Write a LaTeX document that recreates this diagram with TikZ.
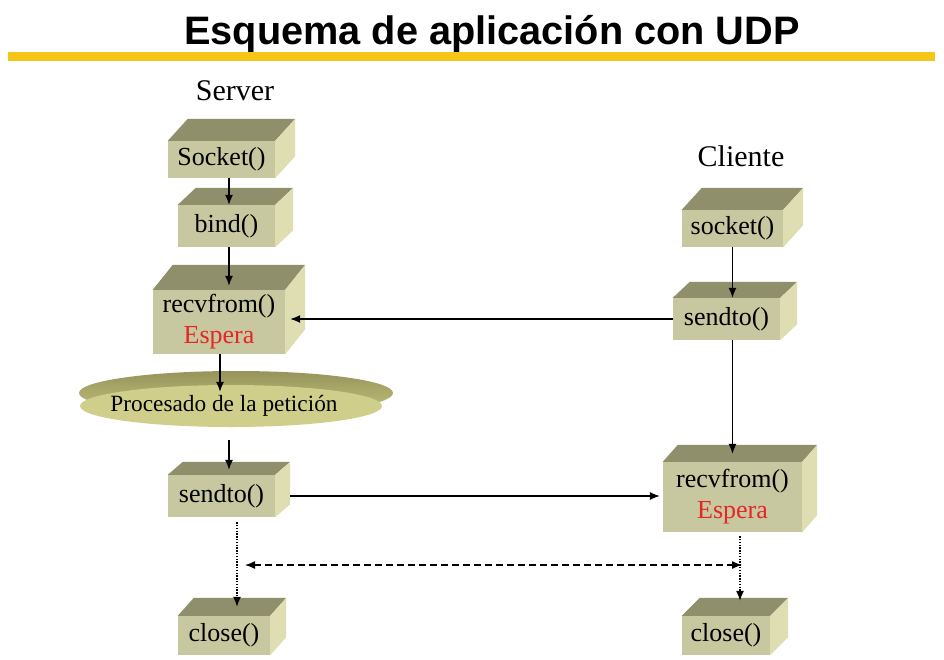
\documentclass[tikz,border=0pt]{standalone}
\usepackage{fontspec}
\setmainfont{Liberation Serif}
\newfontfamily\titulofont{Liberation Sans}
\usetikzlibrary{arrows.meta}
\usetikzlibrary{shapes.geometric}

\definecolor{frente}{RGB}{199,199,160}
\definecolor{tapa}{RGB}{143,143,107}
\definecolor{lado}{RGB}{222,222,178}
\definecolor{discoclaro}{RGB}{208,206,139}
\definecolor{discooscuro}{RGB}{150,148,90}
\definecolor{discomedio}{RGB}{196,194,125}
\definecolor{rojo}{RGB}{230,38,38}
\definecolor{amarillo}{RGB}{245,197,24}

\tikzset{
  caja/.style={fill=frente, inner sep=0pt, align=center, font=\fontsize{26}{31}\selectfont},
  rotulo/.style={anchor=base, font=\fontsize{30}{34}\selectfont},
  disco/.style={ellipse, fill=discoclaro, inner sep=0pt, minimum width=302pt, minimum height=42pt, font=\fontsize{23.3}{27}\selectfont},
  flecha/.style={line width=1.3pt, -{Latex[length=10pt,width=8pt]}},
  punteada/.style={flecha, dash pattern=on 1.3pt off 1.5pt},
  discontinua/.style={line width=1.3pt, {Latex[length=10pt,width=8pt]}-{Latex[length=10pt,width=8pt]}, dash pattern=on 7pt off 4pt},
}

\begin{document}
\begin{tikzpicture}[x=1pt,y=-1pt]
            \useasboundingbox (0,0) rectangle (944,659);
            \fill[white] (0,0) rectangle (944,659);
            \node[anchor=base, font=\titulofont\bfseries\fontsize{39.7}{45}\selectfont] (titulo) at (492,44) {Esquema de aplicación con UDP};
            \fill[amarillo] (8,52) rectangle (935,61);
            \node[rotulo] (server) at (235,100) {Server};
            \node[rotulo] (cliente) at (741,166) {Cliente};

            \node[caja, minimum width=107pt, minimum height=37pt] (sSocket) at (221.5,159.5) {Socket()};
            \node[caja, minimum width=97pt, minimum height=42pt] (sBind) at (226.5,226) {bind()};
            \node[caja, minimum width=132pt, minimum height=64pt] (sRecv) at (219,322) {recvfrom()\\\textcolor{rojo}{Espera}};
            \shade[top color=discooscuro, bottom color=discomedio] (236,393) ellipse [x radius=157, y radius=22];
            \node[disco] (proc) at (231,406) {\hspace*{-14pt}Procesado de la petición};
            \node[caja, minimum width=107pt, minimum height=42pt] (sSend) at (221.5,496) {sendto()};
            \node[caja, minimum width=92pt, minimum height=39pt] (sClose) at (224,635.5) {close()};

            \node[caja, minimum width=101pt, minimum height=37pt] (cSocket) at (732.5,228.5) {socket()};
            \node[caja, minimum width=107pt, minimum height=42pt] (cSend) at (726.5,319) {sendto()};
            \node[caja, minimum width=139pt, minimum height=70pt] (cRecv) at (732.5,497) {recvfrom()\\\textcolor{rojo}{Espera}};
            \node[caja, minimum width=88pt, minimum height=39pt] (cClose) at (726,635.5) {close()};

            \foreach \n/\dx/\dy in {sSocket/20/22, sBind/18/17, sRecv/20/25, sSend/15/13, sClose/16/18, cSocket/20/22, cSend/17/16, cRecv/15/17, cClose/18/18} {
                \fill[tapa] (\n.north west) -- ++(\dx,-\dy) -- ([shift={(\dx,-\dy)}]\n.north east) -- (\n.north east) -- cycle;
                \fill[lado] (\n.north east) -- ++(\dx,-\dy) -- ([shift={(\dx,-\dy)}]\n.south east) -- (\n.south east) -- cycle;
            }

            \draw[flecha] ([xshift=7.5pt]sSocket.south) -- ([xshift=2.5pt]sBind.north);
            \draw[flecha] ([xshift=2.5pt]sBind.south) -- ([xshift=10pt,yshift=4pt]sRecv.north);
            \draw[flecha] ([xshift=1pt]sRecv.south) -- ([xshift=1pt,yshift=-7pt]sRecv.south |- proc.north);
            \draw ([xshift=7.5pt,yshift=-13pt]sSend.north |- proc.south) edge[flecha] ([xshift=7.5pt,yshift=5pt]sSend.north);
            \draw[flecha] (cSend.west) -- ([xshift=5pt]cSend.west -| sRecv.east);
            \draw[flecha] ([xshift=15pt]sSend.east) -- ([xshift=-3pt]sSend.east -| cRecv.west);
            \draw[flecha] (cSocket.south) -- ([xshift=6pt]cSend.north);
            \draw[flecha] ([xshift=6pt]cSend.south) -- ([yshift=8pt]cRecv.north);
            \draw[punteada] ([xshift=15.5pt,yshift=-5pt]sSend.south) -- ([xshift=13pt,yshift=9pt]sClose.north);
            \draw[punteada] ([xshift=7.5pt,yshift=-4pt]cRecv.south) -- ([xshift=14pt,yshift=15pt]cClose.north);

            \coordinate (espIzq) at (245,565);
            \coordinate (espDer) at (742,565);
            \draw[discontinua] (espIzq) -- (espDer);
        \end{tikzpicture}
\end{document}
